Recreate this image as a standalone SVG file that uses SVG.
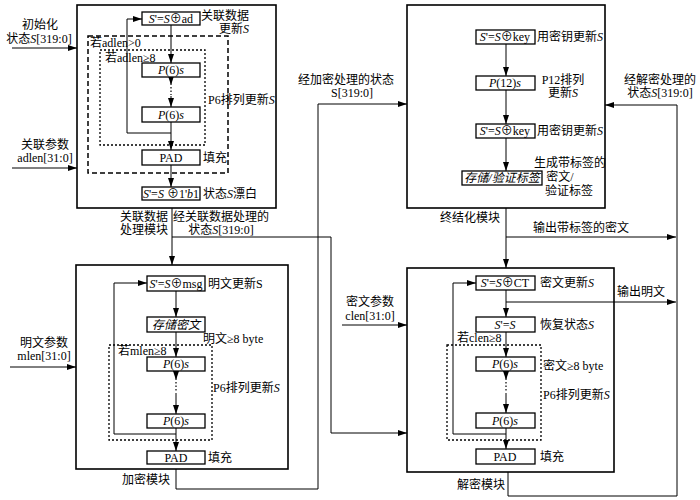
<svg xmlns="http://www.w3.org/2000/svg" width="700" height="500" viewBox="0 0 700 500">
<defs>
<marker id="ah" viewBox="0 0 10 10" refX="10" refY="5" markerWidth="9" markerHeight="6" orient="auto" markerUnits="userSpaceOnUse" preserveAspectRatio="none"><path d="M0,0 L10,5 L0,10 z" fill="#000"/></marker>
<style>
.mod{fill:none;stroke:#000;stroke-width:1.6}
.box{fill:#fff;stroke:#000;stroke-width:1.3}
.dash{fill:none;stroke:#000;stroke-width:1.5;stroke-dasharray:5 3}
.dot{fill:none;stroke:#000;stroke-width:1.3;stroke-dasharray:2 2}
.ln{fill:none;stroke:#000;stroke-width:1}
.arr{marker-end:url(#ah)}
.dots{fill:none;stroke:#000;stroke-width:1.2;stroke-dasharray:1.5 2}
text{font-family:"Liberation Serif","Noto Sans CJK SC",serif;font-size:12px;fill:#000}
.c{text-anchor:middle}
.e{text-anchor:end}
.i{font-style:italic}
</style>
</defs>
<rect width="700" height="500" fill="#fff"/>

<!-- connectors -->
<g id="connectors">
<!-- inputs -->
<path class="ln arr" d="M12,48 H77"/>
<path class="ln arr" d="M12,168 H77"/>
<path class="ln arr" d="M10,367 H76"/>
<path class="ln arr" d="M342,325 H407"/>
<!-- assoc internal -->
<path class="ln arr" d="M171,25 V63"/>
<path class="ln arr" d="M171,77 V85"/>
<path class="dots" d="M171,87 V95"/>
<path class="ln arr" d="M171,96 V107"/>
<path class="ln arr" d="M171,122 V150"/>
<path class="ln arr" d="M171,133 H127 V19 H142"/>
<path class="ln arr" d="M171,165 V187"/>
<!-- assoc -> encrypt / decrypt -->
<path class="ln arr" d="M172,208 V265"/>
<path class="ln arr" d="M172,237 H331 V433 H407"/>
<!-- encrypt internal -->
<path class="ln arr" d="M176,291 V317"/>
<path class="ln arr" d="M176,332 V357"/>
<path class="ln arr" d="M176,371 V380"/>
<path class="dots" d="M176,382 V391"/>
<path class="ln arr" d="M176,393 V414"/>
<path class="ln arr" d="M176,428 V451"/>
<path class="ln arr" d="M176,434 H114 V283 H147"/>
<!-- encrypt -> final -->
<path class="ln arr" d="M176,469 V489 H318 V104 H407"/>
<!-- final internal -->
<path class="ln arr" d="M506,44 V76"/>
<path class="ln arr" d="M506,90 V124"/>
<path class="ln arr" d="M506,138 V171"/>
<!-- final -> decrypt / output -->
<path class="ln arr" d="M506,208 V268"/>
<path class="ln arr" d="M506,237 H676"/>
<!-- decrypt internal -->
<path class="ln arr" d="M506,290 V317"/>
<path class="ln arr" d="M506,302 H676"/>
<path class="ln arr" d="M506,332 V357"/>
<path class="ln arr" d="M506,371 V380"/>
<path class="dots" d="M506,382 V391"/>
<path class="ln arr" d="M506,393 V413"/>
<path class="ln arr" d="M506,428 V449"/>
<path class="ln arr" d="M506,434 H453 V283 H476"/>
<!-- decrypt -> final -->
<path class="ln arr" d="M508,472 V496 H677 V105 H605"/>
</g>

<!-- input labels -->
<g id="in-init"><text class="c" x="40" y="29">初始化</text><text class="c" x="39" y="43">状态<tspan class="i">S</tspan>[319:0]</text></g>
<g id="in-adlen"><text class="c" x="45" y="149">关联参数</text><text class="c" x="45" y="162">adlen[31:0]</text></g>
<g id="in-mlen"><text class="c" x="44" y="347">明文参数</text><text class="c" x="44" y="360">mlen[31:0]</text></g>
<g id="in-clen"><text class="c" x="370" y="306">密文参数</text><text class="c" x="370" y="320">clen[31:0]</text></g>
<g id="lbl-encS"><text class="c" x="346" y="84">经加密处理的状态</text><text class="c" x="352" y="97">S[319:0]</text></g>
<g id="lbl-decS"><text class="c" x="660" y="84">经解密处理的</text><text class="c" x="660" y="97">状态<tspan class="i">S</tspan>[319:0]</text></g>
<g id="lbl-adS"><text class="c" x="221" y="221">经关联数据处理的</text><text class="c" x="221" y="234">状态<tspan class="i">S</tspan>[319:0]</text></g>
<g id="lbl-outct"><text class="c" x="581" y="232">输出带标签的密文</text></g>
<g id="lbl-outpt"><text class="c" x="641" y="296">输出明文</text></g>

<!-- associated data module -->
<g id="assoc">
<rect class="mod" x="77" y="5" width="199" height="203"/>
<rect class="dash" x="88" y="36" width="140" height="137"/>
<rect class="dot" x="100" y="50" width="105" height="95"/>
<text x="90" y="47">若adlen&gt;0</text>
<text x="105" y="62">若adlen≥8</text>
<text x="208" y="104">P6排列更新<tspan class="i">S</tspan></text>
<text class="e" x="249" y="20">关联数据</text>
<text class="e" x="249" y="33">更新<tspan class="i">S</tspan></text>
<text x="203" y="162">填充</text>
<text x="203" y="198">状态<tspan class="i">S</tspan>漂白</text>
<text class="e" x="168" y="221">关联数据</text>
<text class="e" x="168" y="234">处理模块</text>
</g>
<g id="a-xor-ad"><rect class="box" x="142" y="12" width="58" height="13"/><text class="c" x="171" y="23"><tspan class="i">S</tspan>'=<tspan class="i">S</tspan>⊕ad</text></g>
<g id="a-p6-1"><rect class="box" x="142" y="63" width="58" height="14"/><text class="c" x="171" y="74"><tspan class="i">P</tspan>(6)<tspan class="i">s</tspan></text></g>
<g id="a-p6-2"><rect class="box" x="142" y="107" width="58" height="15"/><text class="c" x="171" y="119"><tspan class="i">P</tspan>(6)<tspan class="i">s</tspan></text></g>
<g id="a-pad"><rect class="box" x="142" y="150" width="58" height="15"/><text class="c" x="171" y="162">PAD</text></g>
<g id="a-xor-1"><rect class="box" x="142" y="187" width="58" height="13"/><text class="c" x="171" y="198"><tspan class="i">S</tspan>'=<tspan class="i">S</tspan> ⊕1'<tspan class="i">b</tspan>1</text></g>

<!-- encryption module -->
<g id="encrypt">
<rect class="mod" x="76" y="265" width="212" height="204"/>
<rect class="dot" x="109" y="345" width="103" height="95"/>
<text x="208" y="288">明文更新S</text>
<text x="203" y="343">明文≥8 byte</text>
<text x="118" y="355">若mlen≥8</text>
<text x="213" y="392">P6排列更新<tspan class="i">S</tspan></text>
<text x="208" y="462">填充</text>
<text class="e" x="170" y="484">加密模块</text>
</g>
<g id="e-xor-msg"><rect class="box" x="147" y="276" width="58" height="15"/><text class="c" x="176" y="288"><tspan class="i">S</tspan>'=<tspan class="i">S</tspan>⊕msg</text></g>
<g id="e-store"><rect class="box" x="147" y="317" width="58" height="15"/><text class="c i" x="176" y="329">存储密文</text></g>
<g id="e-p6-1"><rect class="box" x="147" y="357" width="58" height="14"/><text class="c" x="176" y="368"><tspan class="i">P</tspan>(6)<tspan class="i">s</tspan></text></g>
<g id="e-p6-2"><rect class="box" x="147" y="414" width="58" height="14"/><text class="c" x="176" y="425"><tspan class="i">P</tspan>(6)<tspan class="i">s</tspan></text></g>
<g id="e-pad"><rect class="box" x="147" y="451" width="58" height="13"/><text class="c" x="176" y="462">PAD</text></g>

<!-- finalization module -->
<g id="final">
<rect class="mod" x="407" y="5" width="198" height="203"/>
<text x="537" y="41">用密钥更新<tspan class="i">S</tspan></text>
<text class="c" x="563" y="84">P12排列</text>
<text class="c" x="563" y="97">更新<tspan class="i">S</tspan></text>
<text x="537" y="135">用密钥更新<tspan class="i">S</tspan></text>
<text class="c" x="570" y="167">生成带标签的</text>
<text class="c" x="560" y="181">密文/</text>
<text class="c" x="569" y="195">验证标签</text>
<text class="c" x="470" y="222">终结化模块</text>
</g>
<g id="f-xor-key1"><rect class="box" x="476" y="30" width="59" height="14"/><text class="c" x="505" y="41"><tspan class="i">S</tspan>'=<tspan class="i">S</tspan>⊕key</text></g>
<g id="f-p12"><rect class="box" x="476" y="76" width="59" height="14"/><text class="c" x="505" y="87"><tspan class="i">P</tspan>(12)<tspan class="i">s</tspan></text></g>
<g id="f-xor-key2"><rect class="box" x="476" y="124" width="59" height="14"/><text class="c" x="505" y="135"><tspan class="i">S</tspan>'=<tspan class="i">S</tspan>⊕key</text></g>
<g id="f-tag"><rect class="box" x="462" y="171" width="80" height="14"/><text class="c i" x="502" y="182">存储/验证标签</text></g>

<!-- decryption module -->
<g id="decrypt">
<rect class="mod" x="407" y="268" width="207" height="204"/>
<rect class="dot" x="447" y="345" width="94" height="95"/>
<text x="540" y="287">密文更新<tspan class="i">S</tspan></text>
<text x="540" y="329">恢复状态<tspan class="i">S</tspan></text>
<text x="457" y="342">若clen≥8</text>
<text x="543" y="370">密文≥8 byte</text>
<text x="543" y="399">P6排列更新<tspan class="i">S</tspan></text>
<text x="540" y="461">填充</text>
<text class="e" x="505" y="489">解密模块</text>
</g>
<g id="d-xor-ct"><rect class="box" x="476" y="276" width="59" height="14"/><text class="c" x="505" y="287"><tspan class="i">S</tspan>'=<tspan class="i">S</tspan>⊕CT</text></g>
<g id="d-restore"><rect class="box" x="476" y="317" width="59" height="15"/><text class="c" x="505" y="329"><tspan class="i">S</tspan>'=<tspan class="i">S</tspan></text></g>
<g id="d-p6-1"><rect class="box" x="476" y="357" width="59" height="14"/><text class="c" x="505" y="368"><tspan class="i">P</tspan>(6)<tspan class="i">s</tspan></text></g>
<g id="d-p6-2"><rect class="box" x="476" y="413" width="59" height="15"/><text class="c" x="505" y="425"><tspan class="i">P</tspan>(6)<tspan class="i">s</tspan></text></g>
<g id="d-pad"><rect class="box" x="476" y="449" width="59" height="15"/><text class="c" x="505" y="461">PAD</text></g>
</svg>
